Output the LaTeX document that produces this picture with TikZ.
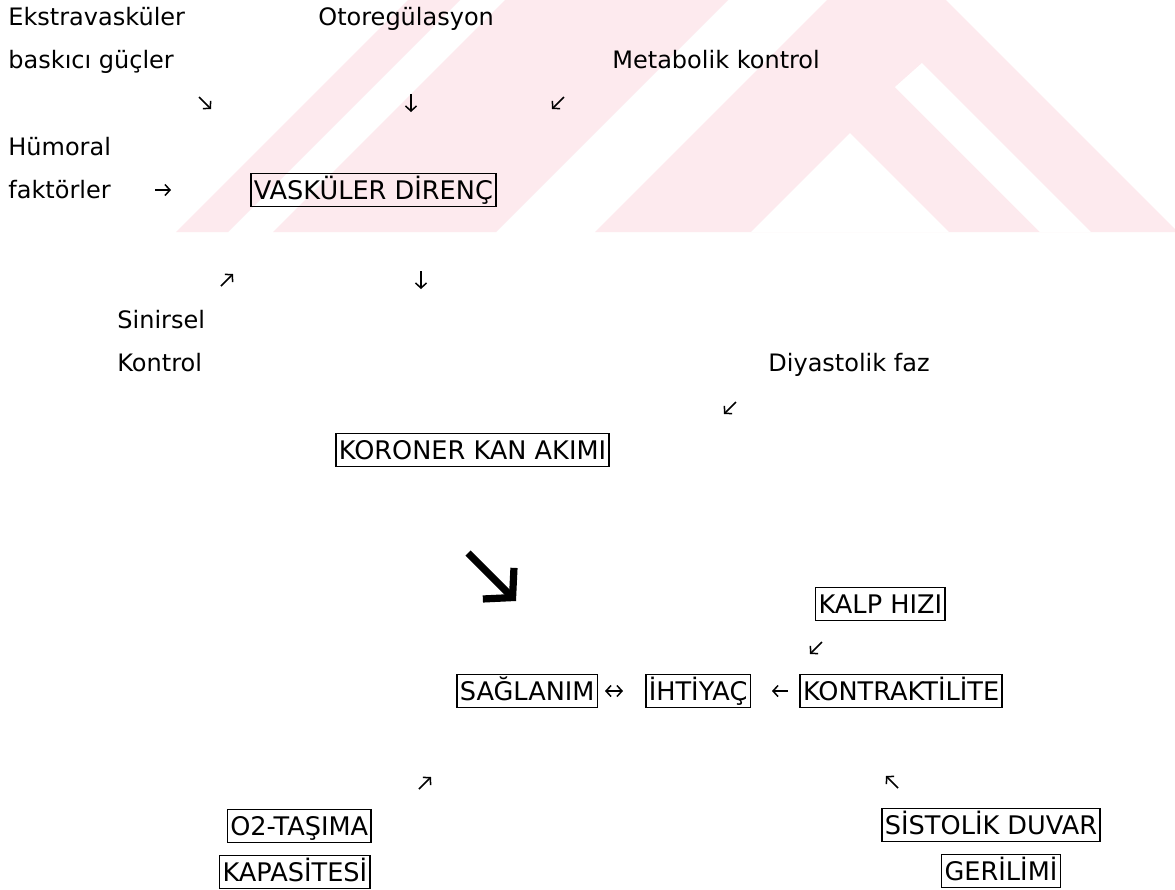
\documentclass[tikz,border=0pt]{standalone}
\usepackage{fontspec}
\setmainfont{DejaVu Sans}
\usetikzlibrary{arrows.meta}
\definecolor{watermark}{RGB}{253,234,238}

\begin{document}
\begin{tikzpicture}[x=0.5pt,y=-0.5pt,
	lbl/.style={anchor=west,inner xsep=0pt,inner ysep=1pt,text height=11.2pt,text depth=2.9pt,font=\fontsize{12}{14}\selectfont},
	kutu/.style={draw,line width=0.8pt,inner xsep=1.5pt,inner ysep=0.5pt,text height=12.2pt,text depth=3.2pt,font=\fontsize{12.8}{15}\selectfont},
	ok/.style={line width=0.75pt,-{Straight Barb[length=2.5pt,width=5.5pt]}},
	buyukok/.style={line width=3.6pt,-{Straight Barb[length=10pt,width=22pt]}}]
	\useasboundingbox (0,0) rectangle (1175,890);
	\fill[white] (0,0) rectangle (1175,890);
	% watermark
	\begin{scope}
	\clip (0,0) rectangle (1175,232);
	\fill[watermark] (408,0) -- (460,0) -- (228,232) -- (176,232) -- cycle;
	\fill[watermark] (505,0) -- (728,0) -- (496,232) -- (273,232) -- cycle;
	\fill[watermark] (827,0) -- (946,0) -- (1178,232) -- (595,232) -- cycle;
	\fill[white] (850,133) -- (949,232) -- (751,232) -- cycle;
	\fill[white] (922,63) -- (1091,232) -- (1040,232) -- (895,87) -- cycle;
	\end{scope}
	\node[lbl] (ekstra) at (8,17) {Ekstravasküler};
	\node[lbl] (baski) at (8,60) {baskıcı güçler};
	\node[lbl] (otoreg) at (318,17) {Otoregülasyon};
	\node[lbl] (metab) at (612,60) {Metabolik kontrol};
	\node[lbl] (humoral) at (8,147) {Hümoral};
	\node[lbl] (faktor) at (8,190) {faktörler};
	\node[kutu,anchor=west] (vaskuler) at (250,190) {VASKÜLER DİRENÇ};
	\node[lbl] (sinirsel) at (117,320) {Sinirsel};
	\node[lbl] (kontrol) at (117,363) {Kontrol};
	\node[lbl] (diyastol) at (768,363) {Diyastolik faz};
	\node[kutu,anchor=east] (koroner) at (610,450) {KORONER KAN AKIMI};
	\node[kutu,anchor=east] (kalp) at (946,604) {KALP HIZI};
	\node[kutu,anchor=west] (saglanim) at (456,691) {SAĞLANIM};
	\node[kutu,anchor=west] (ihtiyac) at (645,691) {İHTİYAÇ};
	\node[kutu,anchor=east] (kontrakt) at (1003,691) {KONTRAKTİLİTE};
	\node[kutu,anchor=east] (tasima) at (372,826) {O2-TAŞIMA};
	\node[kutu,anchor=east] (kapasite) at (371,872) {KAPASİTESİ};
	\node[kutu] (sistolik) at (991,825) {SİSTOLİK DUVAR};
	\node[kutu] (gerilim) at (1001,871) {GERİLİMİ};
	% small arrows
	\foreach \n/\x/\y/\u/\v in {a/205/103/6/6, b/411/103/0/9, c/558/103/-6/6, d/163/190/8/0,
		e/227/280/6/-6, f/421/280/0/9, g/730/408/-6/6, h/816/648/-6/6,
		i/780/691/-8/0, j/425/783/6/-6, k/892/782/-6/-6}{
		\coordinate (\n1) at (\x-\u,\y-\v);
		\coordinate (\n2) at (\x+\u,\y+\v);
		\draw[ok] (\n1) -- (\n2);
	}
	\coordinate (cift1) at (605,691);
	\coordinate (cift2) at (623,691);
	\draw[ok,{Straight Barb[length=2.5pt,width=5.5pt]}-{Straight Barb[length=2.5pt,width=5.5pt]}] (cift1) -- (cift2);
	\coordinate (kalin1) at (468,553);
	\coordinate (kalin2) at (516,601);
	\draw[buyukok] (kalin1) -- (kalin2);
\end{tikzpicture}
\end{document}
